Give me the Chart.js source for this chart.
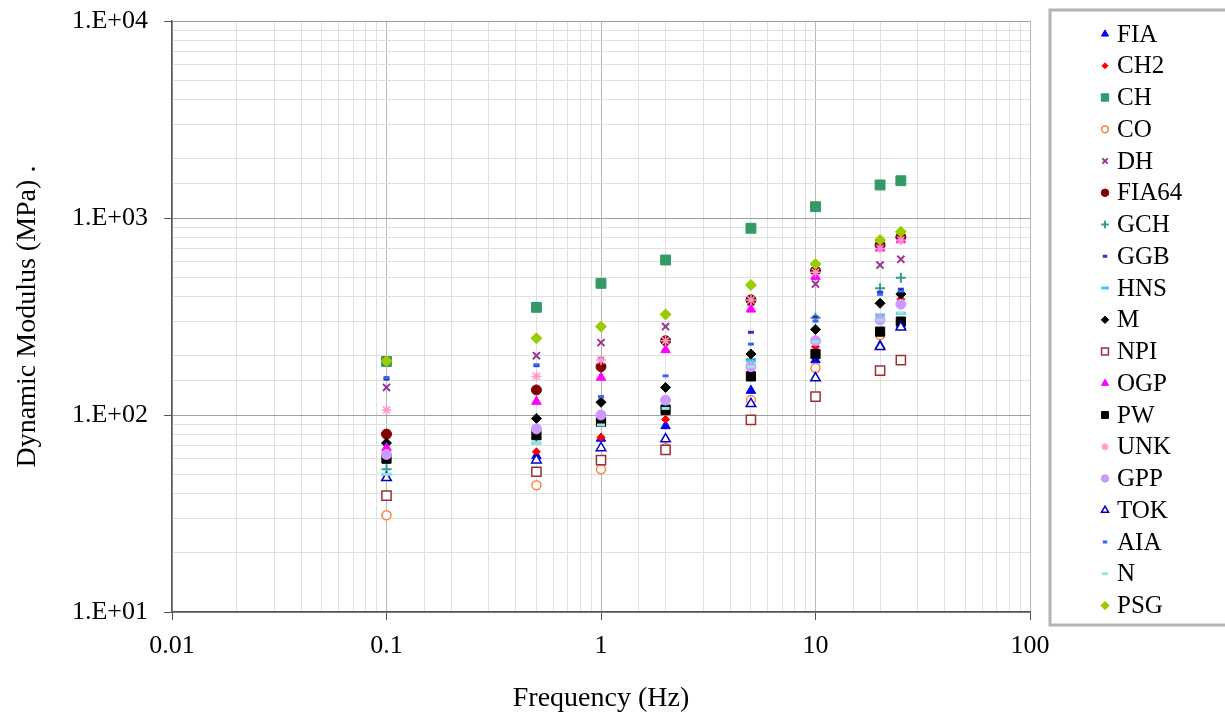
<!DOCTYPE html>
<html>
<head>
<meta charset="utf-8">
<script src="https://cdn.jsdelivr.net/npm/chart.js@4.4.1/dist/chart.umd.min.js"></script>
<style>
  html, body { margin: 0; padding: 0; background: #fff; }
  #wrap { width: 1225px; height: 719px; }
</style>
</head>
<body>
<div id="wrap"><canvas id="modulusChart" width="1225" height="719"></canvas></div>
<script>
// frequencies (Hz) and dynamic modulus (MPa) per material
const freq = [0.1, 0.5, 1, 2, 5, 10, 20, 25];

const FIA   = [48, 62, 76, 88, 133, 190, 225, 283];
const CH2   = [60, 65, 77, 95, 165, 222, 250, 387];
const CH    = [187, 352, 466, 612, 887, 1141, 1471, 1546];
const CO    = [31, 44, 53, 68, 119, 173, 255, 295];
const DH    = [138, 200, 233, 281, 375, 462, 577, 617];
const FIA64 = [80, 134, 176, 238, 384, 540, 730, 800];
const GCH   = [53, 76, 96, 112, 192, 312, 440, 498];
const GGB   = [152, 178, 194, 212, 263, 315, 420, 435];
const HNS   = [50, 72, 89, 108, 188, 235, 322, 328];
const M     = [72, 96, 116, 138, 204, 272, 369, 411];
const NPI   = [39, 51.5, 59, 66.5, 94.5, 124, 168, 190];
const OGP   = [68, 117, 155, 214, 344, 504, 702, 773];
const PW    = [60, 79, 92.5, 106, 157, 204, 265, 298];
const UNK   = [106, 157, 190, 238, 384, 530, 700, 773];
const GPP   = [63, 85, 100, 119, 176, 238, 304, 365];
const TOK   = [48, 59, 68, 75.5, 114, 154, 222, 279];
const AIA   = [155, 180, 124, 158, 229, 300, 410, 425];
const N     = [50, 72, 89, 108, 176, 235, 304, 330];
const PSG   = [188, 245, 281, 324, 457, 584, 773, 851];

const xTickLabels = ["0.01", "0.1", "1", "10", "100"];
const yTickLabels = ["1.E+01", "1.E+02", "1.E+03", "1.E+04"];

// label, values, style, fill, stroke, radius, border
const seriesList = [
  ["FIA", FIA, "triangle", "#0000ff", "#0000ff", 5.5, 1],
  ["CH2", CH2, "rectRot", "#ff0000", "#ff0000", 4, 1],
  ["CH", CH, "rect", "#339966", "#339966", 7, 1],
  ["CO", CO, "circle", "#ffffff", "#ff8040", 4.5, 1.5],
  ["DH", DH, "crossRot", "#993399", "#993399", 5, 2],
  ["FIA64", FIA64, "circle", "#800000", "#800000", 5, 1],
  ["GCH", GCH, "cross", "#339999", "#339999", 5, 2],
  ["GGB", GGB, "line", "#3333cc", "#3333cc", 3, 3],
  ["HNS", HNS, "line", "#33ccff", "#33ccff", 5, 3],
  ["M", M, "rectRot", "#000000", "#000000", 5, 1],
  ["NPI", NPI, "rect", "#ffffff", "#993333", 6.5, 1.5],
  ["OGP", OGP, "triangle", "#ff00ff", "#ff00ff", 5.5, 1],
  ["PW", PW, "rect", "#000000", "#000000", 6.5, 1],
  ["UNK", UNK, "star", "#ff99cc", "#ff99cc", 5, 1.5],
  ["GPP", GPP, "circle", "#cc99ff", "#cc99ff", 5, 1],
  ["TOK", TOK, "triangle", "#ffffff", "#0000cc", 5.5, 1.5],
  ["AIA", AIA, "line", "#3366ff", "#3366ff", 3, 3],
  ["N", N, "line", "#99e6d9", "#99e6d9", 4, 3],
  ["PSG", PSG, "rectRot", "#99cc00", "#99cc00", 5.5, 1]
];

const datasets = seriesList.map((s, i) => ({
  label: s[0],
  data: freq.map((f, k) => ({ x: f, y: s[1][k] })),
  pointStyle: s[2],
  backgroundColor: s[3],
  borderColor: s[4],
  pointRadius: s[5],
  pointHoverRadius: s[5],
  borderWidth: s[6],
  showLine: false,
  order: seriesList.length - i
}));

function isDecade(v) {
  const l = Math.log10(v);
  return Math.abs(l - Math.round(l)) < 1e-6;
}

// boxed legend at the right, like the spreadsheet original
const boxLegend = {
  id: "boxLegend",
  afterDraw(chart) {
    const { ctx, chartArea } = chart;
    const bx = chartArea.right + 20;
    const by = chartArea.top - 11;
    const bh = chartArea.bottom - chartArea.top + 24;
    ctx.save();
    ctx.strokeStyle = "#b4b4b4";
    ctx.lineWidth = 3;
    ctx.strokeRect(bx, by, 190, bh);
    chart.data.datasets.forEach((ds, i) => {
      const y = by + 24 + i * 31.75;
      const x = bx + 55;
      ctx.fillStyle = ds.backgroundColor;
      ctx.strokeStyle = ds.borderColor;
      ctx.lineWidth = ds.borderWidth;
      if (Chart.helpers && Chart.helpers.drawPoint) {
        Chart.helpers.drawPoint(ctx, {
          pointStyle: ds.pointStyle,
          radius: ds.pointRadius * 0.75,
          rotation: 0,
          borderWidth: ds.borderWidth
        }, x, y);
      }
      ctx.fillStyle = "#000";
      ctx.font = '25px "Liberation Serif"';
      ctx.textBaseline = "middle";
      ctx.textAlign = "left";
      ctx.fillText(ds.label, x + 12, y + 1);
    });
    ctx.restore();
  }
};

new Chart(document.getElementById("modulusChart"), {
  type: "scatter",
  data: { datasets: datasets },
  plugins: [boxLegend],
  options: {
    responsive: false,
    animation: false,
    layout: { padding: { top: 21, right: 195, left: 0, bottom: 0 } },
    plugins: {
      legend: { display: false },
      tooltip: { enabled: false }
    },
    scales: {
      x: {
        type: "logarithmic",
        min: 0.01,
        max: 100,
        afterFit: (scale) => { scale.height = 107; },
        border: { color: "#555", width: 1.5 },
        grid: {
          color: (c) => (c.tick && isDecade(c.tick.value) ? "#b8b8b8" : "#e0e0e0"),
          tickColor: (c) => (c.tick && isDecade(c.tick.value) ? "#555" : "rgba(0,0,0,0)"),
          tickLength: 8
        },
        ticks: {
          autoSkip: false,
          maxRotation: 0,
          padding: 11,
          color: "#000",
          font: { family: "Liberation Serif", size: 26 },
          callback: (v) => (isDecade(v) ? xTickLabels[Math.round(Math.log10(v)) + 2] : "")
        },
        title: {
          display: true,
          text: "Frequency (Hz)",
          color: "#000",
          font: { family: "Liberation Serif", size: 28 },
          padding: { top: 4, bottom: 4 }
        }
      },
      y: {
        type: "logarithmic",
        min: 10,
        max: 10000,
        afterFit: (scale) => {
          scale.width = 172;
          scale.paddingTop = 0;
          scale.paddingBottom = 0;
        },
        border: { color: "#555", width: 1.5 },
        grid: {
          color: (c) => (c.tick && isDecade(c.tick.value) ? "#a0a0a0" : "#e0e0e0"),
          tickColor: (c) => (c.tick && isDecade(c.tick.value) ? "#555" : "rgba(0,0,0,0)"),
          tickLength: 8
        },
        ticks: {
          autoSkip: false,
          padding: 16,
          color: "#000",
          font: { family: "Liberation Serif", size: 26 },
          callback: (v) => (isDecade(v) ? yTickLabels[Math.round(Math.log10(v)) - 1] : "")
        },
        title: {
          display: true,
          text: "Dynamic Modulus (MPa) .",
          color: "#000",
          font: { family: "Liberation Serif", size: 28 },
          padding: { top: 11, bottom: 4 }
        }
      }
    }
  }
});
</script>
</body>
</html>
